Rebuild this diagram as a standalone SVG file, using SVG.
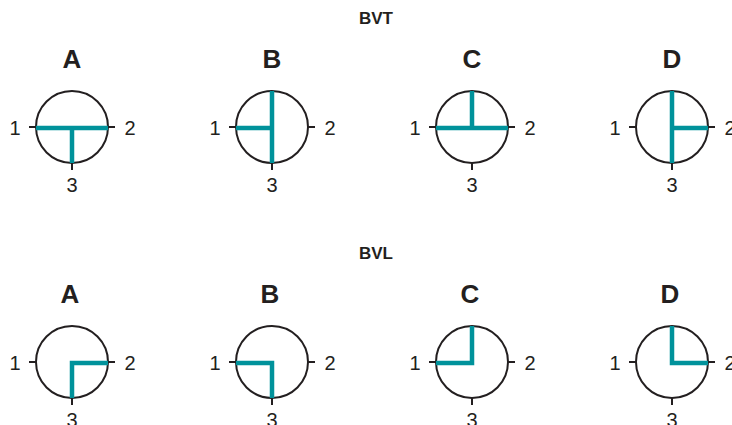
<svg xmlns="http://www.w3.org/2000/svg" width="732" height="425" viewBox="0 0 732 425">
<style>
.title{font-family:"Liberation Sans",Arial,sans-serif;font-weight:bold;font-size:17px;fill:#231f20;text-anchor:middle}
.let{font-family:"Liberation Sans",Arial,sans-serif;font-weight:bold;font-size:26px;fill:#231f20;text-anchor:middle}
.num{font-family:"Liberation Sans",Arial,sans-serif;font-size:20px;fill:#231f20;text-anchor:middle}
.ring{fill:#fff;stroke:#231f20;stroke-width:2}
.tick{stroke:#231f20;stroke-width:2}
.flow{fill:none;stroke:#00929b;stroke-width:4.5;stroke-linecap:butt;stroke-linejoin:miter}
</style>
<defs>
<g id="valve">
<circle class="ring" cx="0" cy="0" r="36"/>
<line class="tick" x1="-43" y1="0" x2="-36" y2="0"/>
<line class="tick" x1="36" y1="0" x2="43" y2="0"/>
<line class="tick" x1="0" y1="36" x2="0" y2="43"/>
<text class="num" x="-57" y="8">1</text>
<text class="num" x="58" y="8">2</text>
<text class="num" x="0" y="65">3</text>
</g>
</defs>
<text class="title" x="376" y="24">BVT</text>
<text class="title" x="376" y="259">BVL</text>
<g id="bvt-a">
<text class="let" x="72" y="68">A</text>
<use href="#valve" x="72" y="127"/>
<path class="flow" d="M36 128 H108 M72 128 V163"/>
</g>
<g id="bvt-b">
<text class="let" x="272" y="68">B</text>
<use href="#valve" x="272" y="127"/>
<path class="flow" d="M272 91 V163 M236 128 H272"/>
</g>
<g id="bvt-c">
<text class="let" x="472" y="68">C</text>
<use href="#valve" x="472" y="127"/>
<path class="flow" d="M436 128 H508 M472 128 V91"/>
</g>
<g id="bvt-d">
<text class="let" x="672" y="68">D</text>
<use href="#valve" x="672" y="127"/>
<path class="flow" d="M672 91 V163 M672 128 H708"/>
</g>
<g id="bvl-a">
<text class="let" x="70" y="303">A</text>
<use href="#valve" x="72" y="362"/>
<path class="flow" d="M108 363 H72 V398"/>
</g>
<g id="bvl-b">
<text class="let" x="270" y="303">B</text>
<use href="#valve" x="272" y="362"/>
<path class="flow" d="M236 363 H272 V398"/>
</g>
<g id="bvl-c">
<text class="let" x="470" y="303">C</text>
<use href="#valve" x="472" y="362"/>
<path class="flow" d="M436 363 H472 V326"/>
</g>
<g id="bvl-d">
<text class="let" x="670" y="303">D</text>
<use href="#valve" x="672" y="362"/>
<path class="flow" d="M672 326 V363 H708"/>
</g>
<g id="connectors"/>
</svg>
